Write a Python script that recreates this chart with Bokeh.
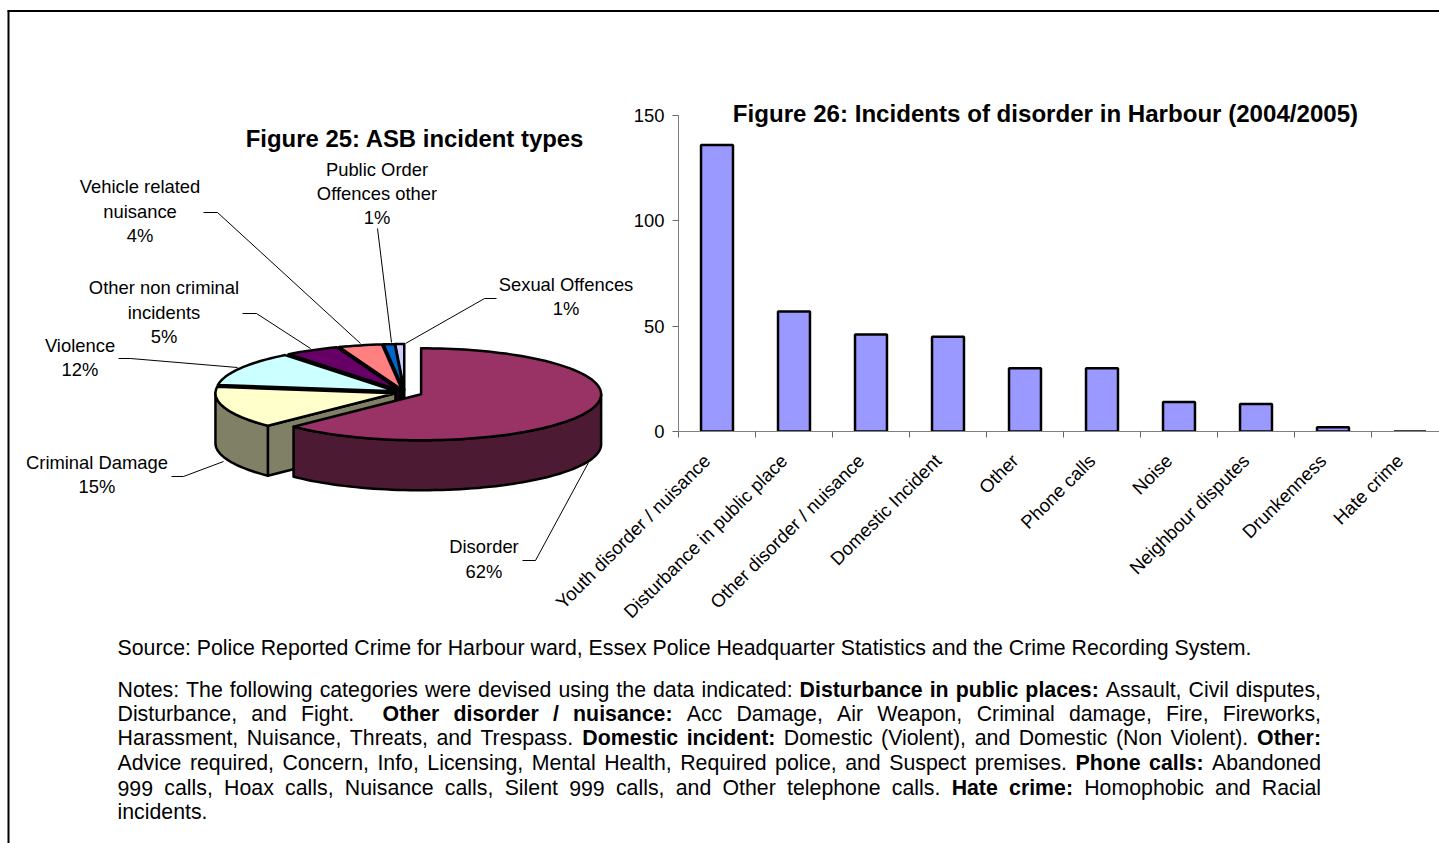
import math
from bokeh.embed import file_html
from bokeh.resources import INLINE
from bokeh.plotting import figure
from bokeh.models import Range1d, LinearAxis, FixedTicker, ColumnDataSource
from bokeh.core.properties import value

# ---------- data ----------
pie_names = ["Disorder", "Criminal Damage", "Violence", "Other non criminal incidents",
             "Vehicle related nuisance", "Public Order Offences other", "Sexual Offences"]
pie_values = [62.6, 14.7, 12.2, 4.9, 3.9, 1.0, 0.8]
pie_top = ["#993366", "#ffffcc", "#ccffff", "#660066", "#ff8080", "#0066cc", "#ccccff"]
pie_wall = ["#4d1a33", "#808066", "#668080", "#330033", "#804040", "#003366", "#666680"]
pie_explode = [0.1, 0.053, 0.053, 0.053, 0.053, 0.053, 0.053]

bar_categories = ["Youth disorder / nuisance", "Disturbance in public place", "Other disorder / nuisance",
                  "Domestic Incident", "Other", "Phone calls", "Noise", "Neighbour disputes",
                  "Drunkenness", "Hate crime"]
bar_values = [136, 57, 46, 45, 30, 30, 14, 13, 2, 0]
y_ticks = [0, 50, 100, 150]

pie_labels = [
    ("Public Order", 376.5, 169), ("Offences other", 376.5, 193), ("1%", 376.5, 217),
    ("Vehicle related", 139.5, 186), ("nuisance", 139.5, 211), ("4%", 139.5, 235),
    ("Sexual Offences", 565.5, 284), ("1%", 565.5, 308),
    ("Other non criminal", 163.5, 287), ("incidents", 163.5, 312), ("5%", 163.5, 336),
    ("Violence", 79.5, 345), ("12%", 79.5, 369),
    ("Criminal Damage", 96.5, 462), ("15%", 96.5, 486),
    ("Disorder", 483.5, 546), ("62%", 483.5, 571),
]
leaders = [
    ([522, 535, 588], [560, 560, 462]),
    ([496, 484, 405], [298, 298, 343]),
    ([377, 391], [228, 342]),
    ([203, 217, 360], [212, 212, 343]),
    ([242, 256, 310], [313, 313, 348]),
    ([118, 130, 237], [358, 358, 367]),
    ([171, 183, 223], [476, 476, 461]),
]
source_text = "Source: Police Reported Crime for Harbour ward, Essex Police Headquarter Statistics and the Crime Recording System."
notes = [
    ([("Notes: The following categories were devised using the data indicated: ", 0),
      ("Disturbance in public places:", 1), (" Assault, Civil disputes,", 0)], 689.5, True),
    ([("Disturbance, and Fight.  ", 0), ("Other disorder / nuisance:", 1),
      (" Acc Damage, Air Weapon, Criminal damage, Fire, Fireworks,", 0)], 713.5, True),
    ([("Harassment, Nuisance, Threats, and Trespass. ", 0), ("Domestic incident:", 1),
      (" Domestic (Violent), and Domestic (Non Violent). ", 0), ("Other:", 1)], 737.5, True),
    ([("Advice required, Concern, Info, Licensing, Mental Health, Required police, and Suspect premises. ", 0),
      ("Phone calls:", 1), (" Abandoned", 0)], 762.5, True),
    ([("999 calls, Hoax calls, Nuisance calls, Silent 999 calls, and Other telephone calls. ", 0),
      ("Hate crime:", 1), (" Homophobic and Racial", 0)], 787.5, True),
    ([("incidents.", 0)], 811.5, False),
]

# ---------- style ----------
FONT = "Liberation Sans"
SIZE = 18.4
NOTE_SIZE = 21.3
W, H = 1439, 843
CX, CY, RX, RY, DEPTH = 404, 392, 180, 46, 50

base = figure(width=W, height=H, x_range=Range1d(0, W), y_range=Range1d(H, 0),
              x_axis_location=None, y_axis_location=None, toolbar_location=None,
              output_backend="svg", min_border=0, outline_line_color=None,
              styles={"position": "absolute", "left": "0px", "top": "0px"})
base.grid.visible = False

# frame
base.line([8, 8], [843, 10], line_color="black", line_width=2)
base.line([7, 1439], [10.5, 10.5], line_color="black", line_width=2)

# ---------- 3D pie, computed from the values ----------
def pt(cx, cy, t, dz=0):
    a = math.radians(t)
    return cx + RX * math.sin(a), cy - RY * math.cos(a) + dz

def arc(cx, cy, t0, t1, dz=0):
    n = max(2, int(abs(t1 - t0) / 2) + 1)
    return [pt(cx, cy, t0 + (t1 - t0) * i / n, dz) for i in range(n + 1)]

total = sum(pie_values)
slices, start = [], 0.0
for i, v in enumerate(pie_values):
    end = start + v / total * 360
    mid = math.radians((start + end) / 2)
    cx = CX + pie_explode[i] * RX * math.sin(mid)
    cy = CY - pie_explode[i] * RY * math.cos(mid)
    slices.append((i, start, end, cx, cy))
    start = end

xs, ys, fills = [], [], []
def add(points, colour):
    xs.append([p[0] for p in points])
    ys.append([p[1] for p in points])
    fills.append(colour)

for i, t0, t1, cx, cy in reversed(slices):
    if 180 < t0 < 360:
        s = pt(cx, cy, t0)
        add([(cx, cy), s, (s[0], s[1] + DEPTH), (cx, cy + DEPTH)], pie_wall[i])
    a, b = max(t0, 90), min(t1, 270)
    if a < b:
        add(arc(cx, cy, a, b) + arc(cx, cy, b, a, DEPTH), pie_wall[i])
    add([(cx, cy)] + arc(cx, cy, t0, t1), pie_top[i])

pie_src = ColumnDataSource(dict(xs=xs, ys=ys, fill=fills))
base.patches("xs", "ys", source=pie_src, fill_color="fill", line_color="black", line_width=2.5, line_join="round")

for lx, ly in leaders:
    base.line(lx, ly, line_color="black", line_width=1)

def draw_text(fig, x, y, t, bold=False, align="left", size=SIZE):
    fig.text(x, y, text=t, text_font=value(FONT), text_font_size=f"{size}px",
             text_font_style="bold" if bold else "normal", text_align=align,
             text_baseline="middle", text_color="black")

draw_text(base, [a[1] for a in pie_labels], [a[2] for a in pie_labels], [a[0] for a in pie_labels], align="center")
draw_text(base, [414.5], [138], ["Figure 25: ASB incident types"], bold=True, align="center", size=23.9)
draw_text(base, [1045], [113], ["Figure 26: Incidents of disorder in Harbour (2004/2005)"], bold=True, align="center", size=24.1)
draw_text(base, [117], [647.5], [source_text], size=NOTE_SIZE)

# ---------- justified notes ----------
REG = dict(zip(" !\"#$%&'()*+,-./:;", [278, 278, 355, 556, 556, 889, 667, 191, 333, 333, 389, 584, 278, 333, 278, 278, 278, 278]))
REG.update({c: 556 for c in "0123456789"})
REG.update(dict(zip("ABCDEFGHIJKLMNOPQRSTUVWXYZ", [667, 667, 722, 722, 667, 611, 778, 722, 278, 500, 667, 556, 833, 722, 778, 667, 778, 722, 667, 611, 722, 667, 944, 667, 667, 611])))
REG.update(dict(zip("abcdefghijklmnopqrstuvwxyz", [556, 556, 500, 556, 556, 278, 556, 556, 222, 222, 500, 222, 833, 556, 556, 556, 556, 333, 500, 278, 556, 500, 722, 500, 500, 500])))
BLD = dict(REG)
BLD.update({":": 333, "/": 278, " ": 278})
BLD.update(dict(zip("ABCDEFGHIJKLMNOPQRSTUVWXYZ", [722, 722, 722, 722, 667, 611, 778, 722, 278, 556, 722, 611, 833, 722, 778, 667, 778, 722, 667, 611, 722, 667, 944, 667, 667, 611])))
BLD.update(dict(zip("abcdefghijklmnopqrstuvwxyz", [556, 611, 556, 611, 556, 333, 611, 611, 278, 278, 556, 278, 889, 611, 611, 611, 611, 389, 556, 333, 611, 556, 778, 556, 556, 500])))

def width(s, bold):
    table = BLD if bold else REG
    return sum(table.get(c, 556) for c in s) * NOTE_SIZE / 1000

LEFT, RIGHT = 117, 1320.5
out = {0: ([], [], []), 1: ([], [], [])}
for runs, y, justify in notes:
    pieces, spaces, natural, pending = [], 0, 0.0, 0
    for text, bold in runs:
        word = ""
        for c in text + "\0":
            if c in " \0":
                if word:
                    pieces.append((pending, word, bold))
                    natural += width(word, bold) + pending * width(" ", False)
                    spaces += pending
                    pending = 0
                    word = ""
                if c == " ":
                    pending += 1
            else:
                word += c
    extra = (RIGHT - LEFT - natural) / spaces if justify and spaces else 0
    x = LEFT
    for gaps, word, bold in pieces:
        x += gaps * (width(" ", False) + extra)
        out[bold][0].append(x)
        out[bold][1].append(y)
        out[bold][2].append(word)
        x += width(word, bold)
for b in (0, 1):
    draw_text(base, out[b][0], out[b][1], out[b][2], bold=bool(b), size=NOTE_SIZE)

# ---------- bar chart ----------
BX0, BY0 = 540, 8
BW, BH = W - BX0, 632
STEP = 77
bar = figure(width=BW, height=BH, x_range=Range1d(0, (W - 678) / STEP), y_range=Range1d(0, 150),
             toolbar_location=None, output_backend="svg", min_border_left=678 - BX0, min_border_right=0,
             min_border_top=115 - BY0, min_border_bottom=BH - (431 - BY0),
             background_fill_color=None, border_fill_color=None, outline_line_color=None,
             styles={"position": "absolute", "left": f"{BX0}px", "top": f"{BY0}px"})
bar.grid.visible = False
bar.vbar(x=[i + 0.5 for i in range(len(bar_values))], top=bar_values, bottom=0, width=0.415,
         fill_color="#9999ff", line_color="black", line_width=2.5)

AX = "#808080"
TK = "#666666"
ya = bar.yaxis[0]
ya.ticker = FixedTicker(ticks=y_ticks)
ya.axis_line_color = AX
ya.major_tick_line_color = TK
ya.major_tick_in = 0
ya.major_tick_out = 6
ya.minor_tick_line_color = None
ya.major_label_standoff = 8
ya.major_label_text_font = FONT
ya.major_label_text_font_size = f"{SIZE}px"
ya.major_label_text_color = "black"

xa = bar.xaxis[0]
xa.ticker = FixedTicker(ticks=list(range(len(bar_categories) + 1)))
xa.axis_line_color = AX
xa.major_tick_line_color = TK
xa.major_tick_in = 0
xa.major_tick_out = 6
xa.minor_tick_line_color = None
xa.major_label_text_font_size = "0px"
xa.major_label_standoff = 0
xa.major_label_overrides = {i: "" for i in range(len(bar_categories) + 1)}

LABEL_SHIFT = 0.13
centres = [i + 0.5 - LABEL_SHIFT for i in range(len(bar_categories))]
xl = LinearAxis(ticker=FixedTicker(ticks=centres),
                major_label_overrides=dict(zip(centres, bar_categories)),
                axis_line_color=None, major_tick_line_color=None, minor_tick_line_color=None,
                major_label_orientation=math.pi / 4, major_label_standoff=14,
                major_label_text_font=FONT, major_label_text_font_size="18.6px",
                major_label_text_color="black")
bar.add_layout(xl, "below")

open("out.html", "w").write(file_html((base, bar), INLINE))
